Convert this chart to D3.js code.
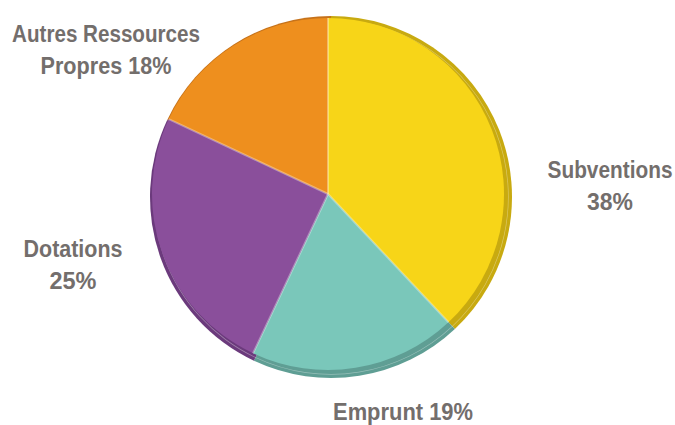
<!DOCTYPE html>
<html>
<head>
<meta charset="utf-8">
<script src="https://cdn.jsdelivr.net/npm/d3@7"></script>
<style>
  html, body { margin: 0; padding: 0; background: #fff; }
  svg { display: block; }
</style>
</head>
<body>
<svg id="chart" width="675" height="425"></svg>
<script>
const categories = ["Subventions", "Emprunt", "Dotations", "Autres Ressources Propres"];
const values = [38, 19, 25, 18];
const faceColors = ["#F7D518", "#7AC7BA", "#8A4F9B", "#EE8F1E"];
const edgeColors = ["#C8AA10", "#5F9E94", "#6B3A7C", "#C6721A"];
const labelLines = [
  ["Subventions", "38%"],
  ["Emprunt 19%"],
  ["Dotations", "25%"],
  ["Autres Ressources", "Propres 18%"]
];

// layout (not data): label centre, first baseline, condensed width per line
const labelLayout = [
  { x: 610, y: 178, w: [125, 46] },
  { x: 403, y: 420, w: [140] },
  { x: 73,  y: 257, w: [99, 47] },
  { x: 106, y: 42,  w: [188, 131] }
];

const svg = d3.select("#chart");
const cx = 331, cy = 197, R = 181;

const data = categories.map((c, i) => ({ name: c, value: values[i], i }));
const pie = d3.pie().sort(null).value(d => d.value).startAngle(0).endAngle(2 * Math.PI);
const arcs = pie(data);

const baseArc = d3.arc().innerRadius(0).outerRadius(R);
const faceArc = d3.arc().innerRadius(0).outerRadius(R - 5);
const hiArc = d3.arc().innerRadius(R - 4).outerRadius(R - 3.3);

const g = svg.append("g").attr("transform", `translate(${cx},${cy})`);

g.selectAll("path.base").data(arcs).join("path")
  .attr("class", "base")
  .attr("d", baseArc)
  .attr("fill", d => edgeColors[d.data.i]);

g.selectAll("path.hi").data(arcs).join("path")
  .attr("class", "hi")
  .attr("d", hiArc)
  .attr("fill", "#ffffff")
  .attr("opacity", 0.35);

const fg = g.append("g").attr("transform", "translate(-3,-3)");
fg.selectAll("path.face").data(arcs).join("path")
  .attr("class", "face")
  .attr("d", faceArc)
  .attr("fill", d => faceColors[d.data.i]);

fg.selectAll("line.sep").data(arcs).join("line")
  .attr("x1", 0).attr("y1", 0)
  .attr("x2", d => Math.sin(d.startAngle) * (R - 5))
  .attr("y2", d => -Math.cos(d.startAngle) * (R - 5))
  .attr("stroke", "#ffffff")
  .attr("stroke-opacity", 0.35)
  .attr("stroke-width", 2);

data.forEach(d => {
  const L = labelLayout[d.i];
  labelLines[d.i].forEach((ln, k) => {
    const t = svg.append("text")
      .attr("text-anchor", "middle")
      .attr("font-family", "'Liberation Sans', Arial, sans-serif")
      .attr("font-weight", "bold")
      .attr("font-size", 24)
      .attr("fill", "#736E6C")
      .attr("x", 0)
      .attr("y", 0)
      .text(ln);
    const nat = t.node().getComputedTextLength();
    const sx = L.w[k] / nat;
    t.attr("transform", `translate(${L.x},${L.y + k * 32}) scale(${sx},1)`);
  });
});
</script>
</body>
</html>
